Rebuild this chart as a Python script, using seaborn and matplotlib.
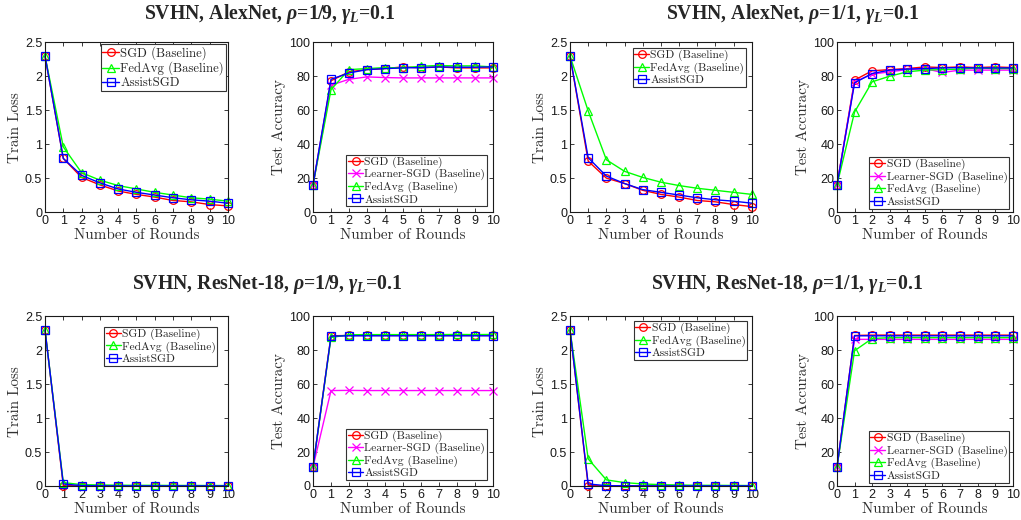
import pandas as pd
import matplotlib
matplotlib.use("Agg")
from matplotlib import pyplot as plt
from matplotlib.ticker import FuncFormatter
import seaborn as sns

rounds = list(range(11))

# SVHN, AlexNet, rho=1/9
alex19_loss_sgd = [2.3, 0.79, 0.51, 0.40, 0.31, 0.26, 0.22, 0.17, 0.15, 0.11, 0.09]
alex19_loss_fedavg = [2.3, 0.96, 0.58, 0.47, 0.39, 0.34, 0.29, 0.25, 0.21, 0.19, 0.16]
alex19_loss_assist = [2.3, 0.79, 0.54, 0.43, 0.34, 0.29, 0.25, 0.21, 0.18, 0.16, 0.13]
alex19_acc_sgd = [16.0, 77.4, 82.7, 84.0, 84.6, 85.6, 85.0, 85.6, 85.0, 85.0, 85.0]
alex19_acc_learner = [16.0, 74.8, 78.3, 79.7, 79.3, 79.1, 79.1, 79.1, 79.1, 79.1, 79.1]
alex19_acc_fedavg = [16.0, 72.2, 84.0, 84.6, 85.2, 85.0, 86.0, 86.4, 86.2, 86.2, 85.6]
alex19_acc_assist = [16.0, 78.3, 82.0, 84.0, 84.6, 85.0, 85.2, 85.6, 85.4, 85.4, 85.6]

# SVHN, AlexNet, rho=1/1
alex11_loss_sgd = [2.3, 0.75, 0.50, 0.42, 0.32, 0.26, 0.22, 0.17, 0.15, 0.11, 0.08]
alex11_loss_fedavg = [2.3, 1.49, 0.77, 0.60, 0.51, 0.44, 0.39, 0.35, 0.32, 0.29, 0.26]
alex11_loss_assist = [2.3, 0.80, 0.53, 0.42, 0.33, 0.29, 0.25, 0.21, 0.18, 0.16, 0.13]
alex11_acc_sgd = [16.0, 77.8, 83.3, 84.0, 84.6, 85.6, 85.2, 85.6, 85.2, 85.6, 85.2]
alex11_acc_learner = [16.0, 76.8, 81.3, 82.7, 84.0, 84.6, 82.3, 83.7, 83.7, 83.7, 83.7]
alex11_acc_fedavg = [16.0, 59.0, 76.8, 80.1, 82.7, 83.7, 84.0, 84.3, 85.0, 84.6, 84.6]
alex11_acc_assist = [16.0, 76.2, 81.7, 83.7, 84.3, 84.6, 85.0, 85.2, 85.0, 85.0, 85.0]

# SVHN, ResNet-18, rho=1/9
res19_loss_sgd = [2.3, 0.005, 0.002, 0.001, 0.001, 0.001, 0.001, 0.001, 0.001, 0.001, 0.001]
res19_loss_fedavg = [2.3, 0.05, 0.02, 0.015, 0.012, 0.010, 0.010, 0.008, 0.008, 0.007, 0.007]
res19_loss_assist = [2.3, 0.03, 0.005, 0.003, 0.002, 0.002, 0.002, 0.002, 0.002, 0.002, 0.002]
res19_acc_sgd = [11.2, 88.6, 88.8, 88.8, 88.8, 88.8, 88.8, 88.8, 88.8, 88.8, 88.8]
res19_acc_learner = [11.2, 56.3, 56.4, 56.3, 56.3, 56.3, 56.3, 56.3, 56.3, 56.3, 56.3]
res19_acc_fedavg = [11.2, 87.6, 89.2, 89.3, 89.3, 89.3, 89.3, 89.3, 89.4, 89.3, 89.4]
res19_acc_assist = [11.2, 88.4, 88.6, 88.6, 88.6, 88.6, 88.6, 88.6, 88.6, 88.6, 88.6]

# SVHN, ResNet-18, rho=1/1
res11_loss_sgd = [2.3, 0.005, 0.002, 0.001, 0.001, 0.001, 0.001, 0.001, 0.001, 0.001, 0.001]
res11_loss_fedavg = [2.3, 0.40, 0.09, 0.05, 0.03, 0.02, 0.015, 0.010, 0.010, 0.008, 0.007]
res11_loss_assist = [2.3, 0.03, 0.005, 0.003, 0.002, 0.002, 0.002, 0.002, 0.002, 0.002, 0.002]
res11_acc_sgd = [11.2, 88.8, 89.0, 89.0, 89.0, 89.0, 89.0, 89.0, 89.0, 89.0, 89.0]
res11_acc_learner = [11.2, 86.5, 86.5, 86.5, 86.5, 86.5, 86.5, 86.5, 86.5, 86.5, 86.5]
res11_acc_fedavg = [11.2, 79.8, 87.0, 87.5, 87.5, 87.5, 87.5, 87.5, 87.5, 87.5, 87.5]
res11_acc_assist = [11.2, 88.6, 88.6, 88.6, 88.6, 88.6, 88.6, 88.6, 88.6, 88.6, 88.6]

titles = [r"SVHN, AlexNet, $\rho$=1/9, $\gamma_L$=0.1",
          r"SVHN, AlexNet, $\rho$=1/1, $\gamma_L$=0.1",
          r"SVHN, ResNet-18, $\rho$=1/9, $\gamma_L$=0.1",
          r"SVHN, ResNet-18, $\rho$=1/1, $\gamma_L$=0.1"]

loss_ticks = [0, 0.5, 1, 1.5, 2, 2.5]
acc_ticks = [0, 20, 40, 60, 80, 100]

styles = {
    "SGD (Baseline)": ("#ff0000", "o"),
    "Learner-SGD (Baseline)": ("#ff00ff", "x"),
    "FedAvg (Baseline)": ("#00ff00", "^"),
    "AssistSGD": ("#0000ff", "s"),
}

sns.set_theme(style="ticks")
plt.rcParams["font.family"] = ["Liberation Sans", "DejaVu Sans"]
plt.rcParams["mathtext.fontset"] = "custom"
plt.rcParams["mathtext.it"] = "Liberation Serif:italic:bold"
plt.rcParams["mathtext.rm"] = "Liberation Serif:bold"
plt.rcParams["mathtext.bf"] = "Liberation Serif:bold"
plt.rcParams["axes.unicode_minus"] = False

label_font = {"family": "cmr10", "size": 10.9, "color": "#303030"}


def draw_panel(ax, series, ylabel, yticks, ymax, legend_loc, pad, legsize):
    """
    One MATLAB-looking panel with open markers
    """
    for name, vals in series:
        color, marker = styles[name]
        sns.lineplot(x=rounds, y=vals, ax=ax, color=color, marker=marker,
                     markersize=5.5, markerfacecolor="none",
                     markeredgecolor=color, markeredgewidth=0.9,
                     linewidth=1.0, label=name, clip_on=False)
    ax.set_xlim(0, 10)
    ax.set_ylim(0, ymax)
    ax.set_xticks(rounds)
    ax.set_yticks(yticks)
    ax.yaxis.set_major_formatter(FuncFormatter(lambda v, p: "%g" % v))
    ax.tick_params(direction="in", length=3, width=0.6, top=True, right=True,
                   labelsize=9, pad=2, colors="#1a1a1a")
    for s in ax.spines.values():
        s.set_linewidth(0.8)
        s.set_color("#1a1a1a")
    ax.set_xlabel("Number of Rounds", fontdict=label_font, labelpad=1)
    ax.set_ylabel(ylabel, fontdict=label_font, labelpad=2)
    leg = ax.legend(loc=legend_loc, prop={"family": "cmr10", "size": legsize},
                    frameon=True, fancybox=False, framealpha=1,
                    edgecolor="#333333", borderpad=0.15, labelspacing=0.12,
                    handlelength=1.3, handletextpad=0.1, borderaxespad=pad)
    leg.get_frame().set_linewidth(0.8)


fig = plt.figure(figsize=(10.21, 5.2), dpi=100)

rows = [
    (0.5923, [
        ("loss", [("SGD (Baseline)", alex19_loss_sgd), ("FedAvg (Baseline)", alex19_loss_fedavg),
                  ("AssistSGD", alex19_loss_assist)], 0.15, 9.2),
        ("acc", [("SGD (Baseline)", alex19_acc_sgd), ("Learner-SGD (Baseline)", alex19_acc_learner),
                 ("FedAvg (Baseline)", alex19_acc_fedavg), ("AssistSGD", alex19_acc_assist)], 0.5, 8.3),
        ("loss", [("SGD (Baseline)", alex11_loss_sgd), ("FedAvg (Baseline)", alex11_loss_fedavg),
                  ("AssistSGD", alex11_loss_assist)], 0.5, 8.3),
        ("acc", [("SGD (Baseline)", alex11_acc_sgd), ("Learner-SGD (Baseline)", alex11_acc_learner),
                 ("FedAvg (Baseline)", alex11_acc_fedavg), ("AssistSGD", alex11_acc_assist)], 0.3, 8.3),
    ]),
    (0.0654, [
        ("loss", [("SGD (Baseline)", res19_loss_sgd), ("FedAvg (Baseline)", res19_loss_fedavg),
                  ("AssistSGD", res19_loss_assist)], 0.9, 8.3),
        ("acc", [("SGD (Baseline)", res19_acc_sgd), ("Learner-SGD (Baseline)", res19_acc_learner),
                 ("FedAvg (Baseline)", res19_acc_fedavg), ("AssistSGD", res19_acc_assist)], 0.5, 8.3),
        ("loss", [("SGD (Baseline)", res11_loss_sgd), ("FedAvg (Baseline)", res11_loss_fedavg),
                  ("AssistSGD", res11_loss_assist)], 0.4, 8.3),
        ("acc", [("SGD (Baseline)", res11_acc_sgd), ("Learner-SGD (Baseline)", res11_acc_learner),
                 ("FedAvg (Baseline)", res11_acc_fedavg), ("AssistSGD", res11_acc_assist)], 0.3, 8.3),
    ]),
]
lefts = [0.0441, 0.3066, 0.5583, 0.8198]
widths = [0.179, 0.176, 0.178, 0.172]

for bottom, panels in rows:
    for left, w, (kind, series, pad, legsize) in zip(lefts, widths, panels):
        ax = fig.add_axes([left, bottom, w, 0.326])
        if kind == "loss":
            draw_panel(ax, series, "Train Loss", loss_ticks, 2.5, "upper right", pad, legsize)
        else:
            draw_panel(ax, series, "Test Accuracy", acc_ticks, 100, "lower right", pad, legsize)

title_pos = [(0.264, 0.973), (0.776, 0.973), (0.262, 0.453), (0.771, 0.453)]
for t, (x, y) in zip(titles, title_pos):
    fig.text(x, y, t, ha="center", va="center", family="Liberation Serif",
             weight="bold", size=14.2)

fig.savefig("out.png", dpi=100)
